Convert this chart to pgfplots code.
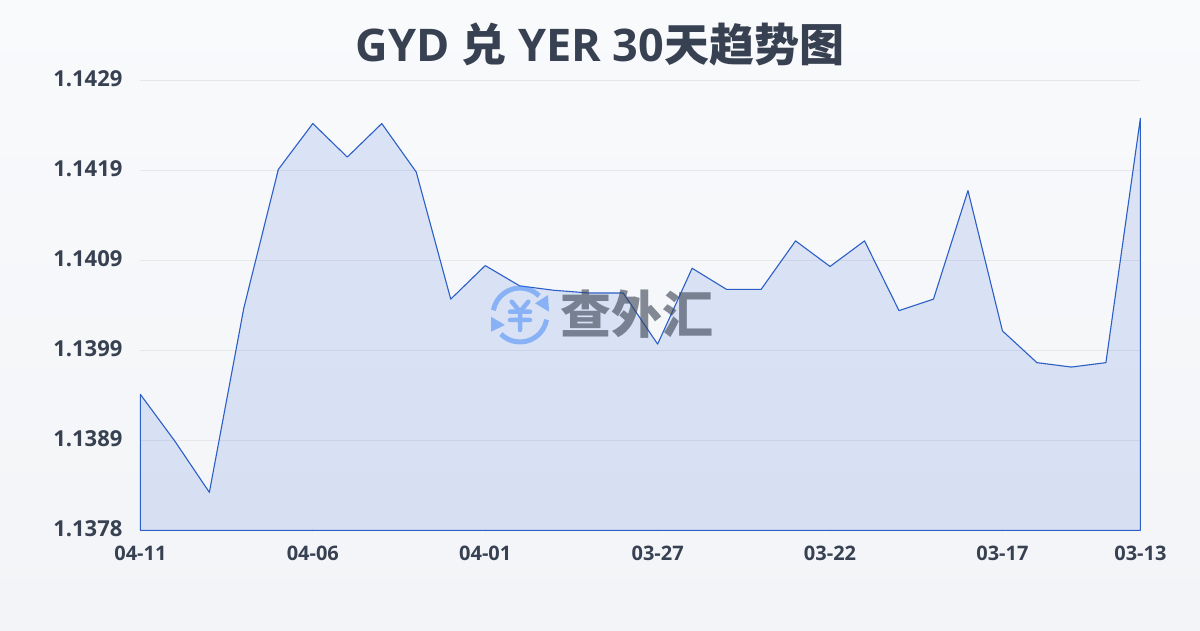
\documentclass[border=0pt]{standalone}
\usepackage{fontspec}
\usepackage{pgfplots}
\pgfplotsset{compat=1.18}
\setmainfont{Open Sans}
\newfontfamily\cjk{Noto Sans CJK SC}
\definecolor{txt}{HTML}{374151}
\definecolor{lineblue}{HTML}{2B5FC7}
\definecolor{fillblue}{HTML}{2A63D6}
\definecolor{gridc}{HTML}{E5E7EB}
\definecolor{tickc}{HTML}{ECEEF1}
\definecolor{logoc}{HTML}{3B82F6}
\definecolor{bgtop}{HTML}{F9FAFC}
\definecolor{bgbot}{HTML}{F3F4F7}
\begin{document}
\begin{tikzpicture}[x=1pt,y=1pt]
\useasboundingbox (0,0) rectangle (1200,630);
\shade[top color=bgtop, bottom color=bgbot] (0,0) rectangle (1200,630);
\begin{axis}[
  at={(140.4pt,99.7pt)},anchor=south west,
  scale only axis,width=1000pt,height=450pt,
  xmin=0,xmax=29,ymin=1.1378,ymax=1.1429,
  axis lines=left,axis line style={draw=none},
  clip=false,
  xtick={0,5,10,15,20,25,29},
  xticklabels={04-11,04-06,04-01,03-27,03-22,03-17,03-13},
  ytick={1.1378,1.13882,1.13984,1.14086,1.14188,1.1429},
  yticklabels={1.1378,1.1389,1.1399,1.1409,1.1419,1.1429},
  ymajorgrids,
  grid style={gridc,line width=1pt},
  y tick style={draw=none},
  x tick style={tickc,line width=1pt},
  major tick length=5pt,
  xticklabel style={font=\fontsize{20}{20}\selectfont\bfseries,text=txt,yshift=-10pt},
  yticklabel style={font=\fontsize{22}{22}\selectfont\bfseries,text=txt,xshift=-12pt,yshift=1.5pt},
]
\addplot[draw=lineblue,line width=1.1pt,fill=fillblue,fill opacity=0.14,draw opacity=1,line join=round] coordinates {
(0,1.13934)(1,1.13881)(2,1.13823)(3,1.14032)(4,1.14189)(5,1.14241)(6,1.14203)(7,1.14241)(8,1.14186)(9,1.14042)
(10,1.14080)(11,1.14057)(12,1.14052)(13,1.14049)(14,1.14049)(15,1.13991)(16,1.14077)(17,1.14053)(18,1.14053)(19,1.14108)
(20,1.14079)(21,1.14108)(22,1.14029)(23,1.14042)(24,1.14165)(25,1.14006)(26,1.13970)(27,1.13965)(28,1.13970)(29,1.14247)
} \closedcycle;
\end{axis}
% watermark
\begin{scope}[shift={(520,315)},opacity=0.5,transparency group]
\draw[logoc,line width=5pt] (170:27) arc (170:45:27);
\draw[logoc,line width=5pt] (-10:27) arc (-10:-135:27);
\fill[logoc] (28,20) -- (29,3.3) -- (15,11.7) -- cycle;
\fill[logoc] (-29,-1.7) -- (-29,-16.7) -- (-15,-10) -- cycle;
\draw[logoc,line width=4.5pt,line cap=round,line join=round] (-8.3,13.3) -- (0,3.3) -- (8.3,13.3);
\draw[logoc,line width=4.5pt,line cap=round] (-10,3.3) -- (10,3.3) (-10,-5) -- (10,-5) (0,3.3) -- (0,-15);
\end{scope}
\node[txt,opacity=0.6,anchor=west,inner sep=0pt,font={\cjk\fontsize{51}{51}\selectfont\bfseries}] at (560,316) {查外汇};
\node[text=txt,font={\fontsize{45}{45}\selectfont\bfseries}] at (600,585) {GYD {\cjk 兑} YER 30{\cjk 天趋势图}};
\end{tikzpicture}
\end{document}
